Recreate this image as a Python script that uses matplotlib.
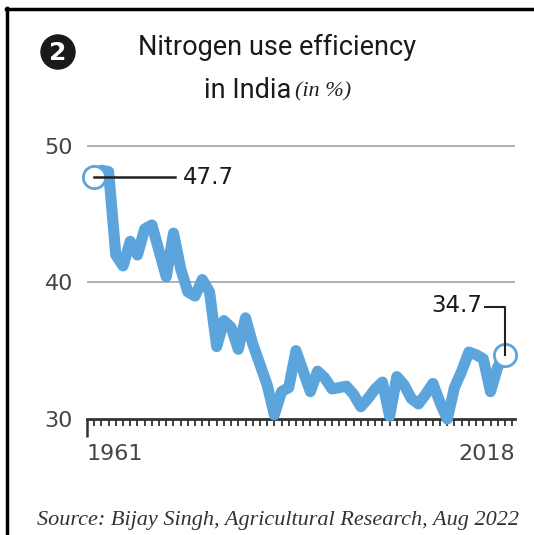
import matplotlib.pyplot as plt
import matplotlib.lines as mlines
from matplotlib.patches import Circle
import numpy as np

# Cell
years = list(range(1961, 2019))
nue = [47.7, 48.2, 48.1, 42.0, 41.2, 43.0, 42.0, 43.9, 44.2, 42.3,
       40.4, 43.6, 41.0, 39.3, 39.0, 40.2, 39.3, 35.3, 37.2, 36.7,
       35.1, 37.4, 35.5, 34.0, 32.5, 30.3, 32.0, 32.3, 35.0, 33.5,
       32.0, 33.5, 33.0, 32.2, 32.3, 32.4, 31.8, 30.9, 31.5, 32.2,
       32.7, 30.2, 33.1, 32.5, 31.5, 31.1, 31.8, 32.6, 31.2, 30.0,
       32.3, 33.5, 34.9, 34.7, 34.4, 32.0, 33.8, 34.7]
yticks = [30, 40, 50]
xlabels = ["1961", "2018"]
title_1 = "Nitrogen use efficiency"
title_2 = "in India"
unit = "(in %)"
source = "Source: Bijay Singh, Agricultural Research, Aug 2022"

BLUE = "#5ba4dc"
GREY = "#444444"

W, H = 534, 535
fig = plt.figure(figsize=(W / 100, H / 100), dpi=100)

def fx(px):
    return px / W

def fy(py):
    return 1 - py / H

# axes: x 87..515 px, y 30 at 419 px, 51 at 132 px
ax = fig.add_axes([fx(87), fy(419), fx(515) - fx(87), fy(132) - fy(419)])
ax.set_xlim(1960, 2019.4)
ax.set_ylim(30, 51)

for v in [40, 50]:
    ax.axhline(v, color="#b0b0b0", lw=1.4, zorder=1)

ax.plot(years, nue, color=BLUE, lw=8, solid_joinstyle="round",
        solid_capstyle="round", zorder=3, clip_on=False)

# end markers
for i in [0, -1]:
    ax.plot(years[i], nue[i], "o", ms=16, mfc="white", mec=BLUE, mew=2,
            zorder=4, clip_on=False)

# annotations
ax.plot([years[0], 1972.2], [nue[0], nue[0]], color="#222222", lw=1.8,
        zorder=5, clip_on=False)
ax.text(1973.3, nue[0], "47.7", fontsize=16.5, color="#1a1a1a",
        va="center", ha="left")
ax.plot([2015.3, years[-1], years[-1]], [38.2, 38.2, nue[-1]],
        color="#222222", lw=1.5, zorder=5, clip_on=False)
ax.text(2014.9, 38.3, "34.7", fontsize=16.5, color="#1a1a1a",
        va="center", ha="right")

for s in ["top", "right", "left"]:
    ax.spines[s].set_visible(False)
ax.spines["bottom"].set_color("#333333")
ax.spines["bottom"].set_linewidth(2)
ax.spines["bottom"].set_zorder(2)

ax.set_xticks([1960])
ax.set_xticklabels([])
ax.set_xticks(list(range(1961, 2020)), minor=True)
ax.tick_params(axis="x", which="major", length=13, width=1.8, color="#333333")
ax.tick_params(axis="x", which="minor", length=5, width=1.3, color="#333333")

ax.set_yticks(yticks)
ax.set_yticklabels([str(t) for t in yticks], fontsize=16, color=GREY)
ax.tick_params(axis="y", length=0, pad=10)

ax.text(1960, 28.2, xlabels[0], fontsize=16, color=GREY, ha="left", va="top")
ax.text(2019.4, 28.2, xlabels[1], fontsize=16, color=GREY, ha="right", va="top")

# title
fig.text(fx(277), fy(47), title_1, fontsize=19.5, color="#1a1a1a",
         family="Roboto", ha="center", va="center")
fig.text(fx(291), fy(90), title_2, fontsize=19.5, color="#1a1a1a",
         family="Roboto", ha="right", va="center")
fig.text(fx(295), fy(92), unit, fontsize=16, color="#222222",
         family="Liberation Serif", style="italic", ha="left", va="center")

# badge
badge = Circle((fx(58), fy(52)), 17 / W, transform=fig.transFigure,
               color="#1a1a1a")
fig.add_artist(badge)
fig.text(fx(58), fy(53), "2", fontsize=18, color="white", fontweight="bold",
         ha="center", va="center")

# source
fig.text(fx(37), fy(520), source, fontsize=16, color="#333333",
         family="Liberation Serif", style="italic", ha="left", va="center")

# frame
fig.add_artist(mlines.Line2D([fx(7), fx(7)], [0, fy(8)], color="black",
                             lw=2.5, transform=fig.transFigure))
fig.add_artist(mlines.Line2D([fx(6), 1], [fy(8.5), fy(8.5)], color="black",
                             lw=2.5, transform=fig.transFigure))

fig.savefig("out.png", dpi=100, facecolor="white")
